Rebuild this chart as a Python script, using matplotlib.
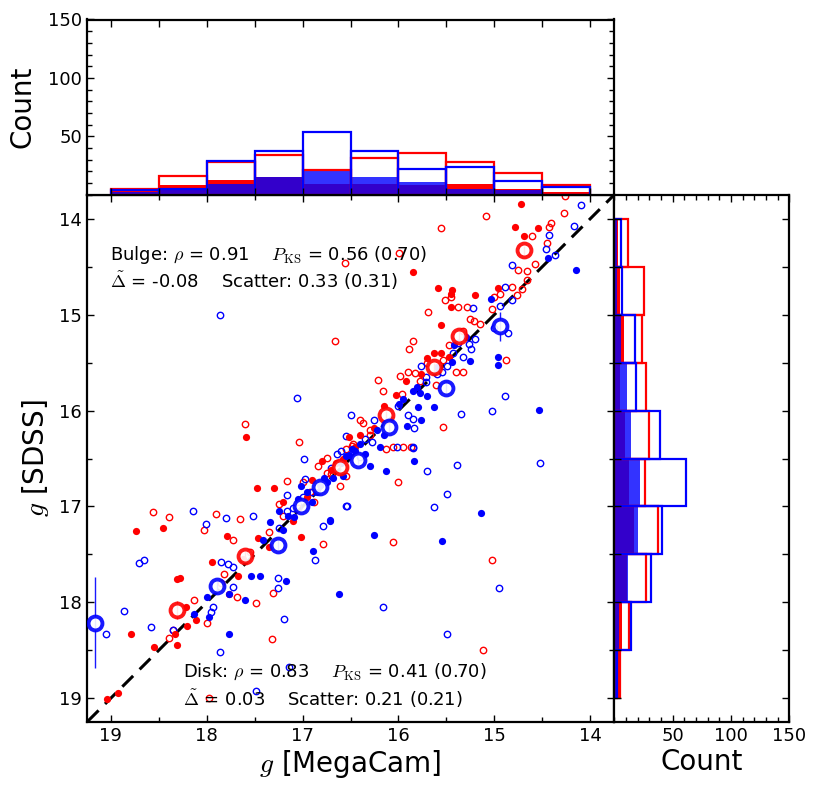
import matplotlib
matplotlib.use("Agg")
import matplotlib.pyplot as plt
import numpy as np

plt.rcParams['mathtext.fontset'] = 'cm'
plt.rcParams['font.family'] = 'DejaVu Sans'

# histogram bins (0.5 mag wide, from 14 to 19)
bin_left = [14.0, 14.5, 15.0, 15.5, 16.0, 16.5, 17.0, 17.5, 18.0, 18.5]

# top histogram: g MegaCam
mc_bulge_all = [8, 19, 28, 36, 31, 21, 34, 28, 16, 5]
mc_disk_all = [7, 12, 24, 22, 37, 54, 37, 29, 5, 4]
mc_bulge_sub = [2, 5, 9, 8, 9, 9, 15, 13, 8, 3]
mc_disk_sub = [1, 4, 5, 11, 15, 21, 15, 9, 4, 2]

# right histogram: g SDSS
sd_bulge_all = [12, 25, 24, 27, 30, 26, 37, 27, 13, 5]
sd_disk_all = [6, 7, 18, 19, 39, 61, 41, 31, 14, 2]
sd_bulge_sub = [3, 5, 8, 5, 9, 13, 17, 11, 7, 4]
sd_disk_sub = [2, 2, 6, 11, 14, 22, 20, 12, 4, 2]

# scatter points (g MegaCam, g SDSS)
bulge_open_x = [15.09, 15.56, 14.26, 14.27, 14.61, 14.41, 14.43, 14.45, 16.56, 15.99, 14.75, 14.66, 14.66,
                15.51, 15.45, 15.38, 15.29, 15.69, 15.21, 15.03, 15.00, 14.82, 14.94, 14.76, 14.71, 15.33,
                14.88, 15.85, 15.89, 15.47, 15.54, 15.40, 15.33, 15.83, 15.98, 16.21, 15.78, 15.61, 16.16,
                15.96, 15.54, 16.37, 16.48, 16.06, 15.95, 15.87, 16.66, 17.60, 17.04, 16.75, 16.84, 17.16,
                17.25, 18.56, 18.39, 17.90, 17.65, 18.03, 17.73, 17.35, 16.79, 17.82, 17.68, 17.49, 17.31,
                18.13, 18.00, 18.35, 18.39, 17.32, 17.98, 16.01, 16.06, 15.03, 15.12, 16.61, 16.13, 16.47,
                16.92, 16.70, 17.05, 16.30, 17.55, 17.85, 16.88, 16.55, 15.15, 14.58,
                16.30, 16.40, 16.75, 17.00, 17.20, 15.70, 15.90, 16.55, 15.25]
bulge_open_y = [13.97, 14.10, 13.76, 13.94, 14.18, 14.05, 14.09, 14.25, 14.46, 14.36, 14.53, 14.55, 14.64,
                14.85, 14.82, 14.92, 14.92, 14.97, 15.07, 14.94, 14.82, 14.71, 14.79, 14.80, 14.73, 15.17,
                15.47, 15.27, 15.36, 15.32, 15.47, 15.60, 15.60, 15.61, 15.64, 15.68, 15.69, 15.73, 15.80,
                15.83, 16.17, 16.13, 16.37, 16.38, 16.38, 16.38, 15.28, 16.14, 16.33, 16.49, 16.58, 16.73,
                16.97, 17.06, 17.11, 17.08, 17.13, 17.25, 17.35, 17.27, 17.39, 17.70, 17.94, 18.01, 17.90,
                17.97, 18.21, 18.29, 18.37, 18.38, 19.00, 16.75, 17.37, 17.56, 18.50, 16.79, 16.40, 16.35,
                16.85, 16.66, 17.02, 16.25, 17.47, 17.80, 16.95, 16.68, 15.10, 14.47,
                16.20, 16.10, 16.65, 16.75, 17.10, 15.50, 15.60, 16.40, 15.05]
bulge_fill_x = [14.72, 14.78, 14.55, 14.69, 15.85, 15.59, 15.44, 15.45, 15.20, 15.45, 15.56, 14.96, 15.63,
                15.56, 15.47, 15.77, 15.92, 16.03, 17.59, 16.52, 16.80, 17.47, 17.30, 17.10, 18.74, 18.45,
                17.79, 17.46, 17.02, 17.94, 18.31, 18.28, 17.67, 17.77, 18.22, 18.11, 18.79, 18.33, 18.31,
                18.55, 18.20, 19.04, 18.92, 17.35, 16.45, 16.25, 16.70, 17.62, 16.95, 16.58,
                16.40, 16.65, 16.90, 15.70, 17.20, 16.15]
bulge_fill_y = [13.85, 14.09, 14.10, 14.18, 14.56, 14.72, 14.74, 14.78, 14.80, 14.92, 15.11, 14.72, 15.40,
                15.40, 15.44, 15.62, 15.69, 15.84, 16.28, 16.28, 16.53, 16.81, 16.81, 17.15, 17.26, 17.22,
                17.31, 17.33, 17.32, 17.58, 17.76, 17.75, 17.73, 17.91, 18.05, 18.18, 18.33, 18.33, 18.44,
                18.46, 18.25, 19.01, 18.94, 17.42, 16.38, 16.18, 16.62, 17.55, 16.90, 16.50,
                16.25, 16.55, 16.72, 15.45, 16.95, 15.95]
disk_open_x = [14.10, 14.43, 14.17, 14.46, 14.37, 14.82, 14.89, 14.94, 14.82, 15.22, 15.00, 14.86, 15.38,
               15.26, 15.20, 15.24, 15.43, 15.33, 15.49, 15.76, 15.71, 15.71, 14.89, 15.02, 15.35, 15.85,
               15.84, 16.49, 16.55, 16.02, 15.85, 16.64, 17.86, 17.06, 16.98, 16.97, 17.16, 16.54, 17.16,
               16.79, 18.14, 17.80, 17.52, 18.01, 17.25, 16.87, 18.71, 18.65, 17.26, 17.26, 17.72, 17.95,
               17.93, 18.86, 19.05, 18.58, 18.35, 17.19, 17.86, 17.14, 17.48, 14.52, 15.39, 15.70, 15.49,
               15.63, 14.95, 16.16, 15.49, 15.85, 16.55, 17.85, 17.78, 17.72, 16.40, 16.90, 16.28, 15.60,
               16.60, 16.70, 16.35, 16.00, 15.90, 15.55, 17.00, 17.10, 16.25]
disk_open_y = [13.86, 14.17, 14.08, 14.32, 14.38, 14.48, 14.71, 14.91, 14.85, 14.93, 15.14, 15.19, 15.30,
               15.31, 15.25, 15.36, 15.40, 15.44, 15.54, 15.54, 15.65, 15.70, 15.85, 16.00, 16.04, 16.09,
               16.18, 16.05, 16.27, 16.38, 16.38, 16.45, 15.00, 15.87, 16.50, 16.71, 16.88, 16.99, 17.05,
               17.20, 17.05, 17.12, 17.10, 17.18, 17.22, 17.56, 17.59, 17.56, 17.75, 17.85, 17.84, 18.10,
               18.05, 18.09, 18.33, 18.26, 18.29, 18.17, 18.52, 18.67, 18.92, 16.55, 16.57, 16.63, 16.87,
               17.01, 17.85, 18.05, 18.33, 16.39, 16.99, 17.58, 17.60, 17.63, 16.48, 16.85, 16.33, 15.62,
               16.42, 16.60, 16.30, 15.95, 16.05, 15.60, 16.90, 17.02, 16.10]
disk_fill_x = [14.44, 14.15, 15.04, 15.30, 14.96, 14.96, 15.25, 15.44, 15.81, 15.78, 15.99, 15.70, 14.53,
               15.80, 15.63, 15.76, 15.91, 16.19, 16.52, 16.45, 17.02, 17.09, 16.71, 17.34, 17.41, 16.89,
               17.54, 17.44, 17.17, 17.77, 18.00, 17.60, 16.62, 18.13, 17.98, 17.77, 15.14, 15.84, 16.13,
               16.26, 15.55, 16.30, 16.71, 16.85, 16.75, 16.68, 16.90, 16.35, 16.60, 17.20,
               16.40, 16.48, 16.55, 16.78, 16.82, 16.95, 17.05, 16.15, 16.22, 15.95, 15.85, 15.60, 15.42,
               17.15, 17.25, 16.58]
disk_fill_y = [14.41, 14.54, 14.84, 15.23, 15.44, 15.53, 15.48, 15.49, 15.75, 15.82, 15.93, 15.85, 15.99,
               15.96, 15.96, 16.10, 16.16, 16.38, 16.46, 16.42, 16.79, 17.11, 17.15, 17.16, 17.35, 17.46,
               17.73, 17.73, 17.78, 17.91, 17.94, 17.98, 17.91, 18.12, 18.15, 18.33, 17.07, 16.53, 16.63,
               17.30, 17.36, 16.58, 17.14, 16.85, 16.75, 16.70, 16.95, 16.45, 16.55, 17.25,
               16.35, 16.40, 16.47, 16.70, 16.78, 16.85, 16.92, 16.25, 16.20, 15.88, 15.80, 15.55, 15.32,
               17.10, 17.05, 16.68]

# binned medians
bulge_med_x = [14.69, 15.37, 15.63, 16.13, 16.61, 17.60, 18.31]
bulge_med_y = [14.33, 15.22, 15.55, 16.05, 16.59, 17.52, 18.08]
bulge_med_err = [0.05, 0.05, 0.05, 0.05, 0.04, 0.06, 0.09]
disk_med_x = [14.94, 15.50, 16.10, 16.42, 16.82, 17.02, 17.26, 17.89, 19.16]
disk_med_y = [15.12, 15.76, 16.17, 16.52, 16.80, 17.00, 17.40, 17.83, 18.21]
disk_med_err = [0.15, 0.07, 0.05, 0.04, 0.04, 0.04, 0.06, 0.06, 0.47]

W, H = 815, 785
fig = plt.figure(figsize=(W / 100, H / 100), dpi=100)
ax = fig.add_axes([86.7 / W, 1 - 722.3 / H, 527.6 / W, 527.6 / H])
axt = fig.add_axes([86.7 / W, 1 - 194.7 / H, 527.6 / W, 175.2 / H])
axr = fig.add_axes([614.3 / W, 1 - 722.3 / H, 175.2 / W, 527.6 / H])

lim = (19.25, 13.75)

# main scatter
ax.plot([13, 20], [13, 20], color='k', ls='--', lw=2.2, dashes=(5, 3), zorder=1)
ax.plot(bulge_open_x, bulge_open_y, 'o', mfc='none', mec='red', ms=4.6, mew=1)
ax.plot(disk_open_x, disk_open_y, 'o', mfc='none', mec='blue', ms=4.6, mew=1)
ax.plot(bulge_fill_x, bulge_fill_y, 'o', color='red', ms=5.2, mew=0)
ax.plot(disk_fill_x, disk_fill_y, 'o', color='blue', ms=5.2, mew=0)
ax.errorbar(bulge_med_x, bulge_med_y, yerr=bulge_med_err, fmt='o', mfc='white', mec='red', ecolor='red',
            ms=10, mew=2.8, elinewidth=1, alpha=0.9, zorder=5)
ax.errorbar(disk_med_x, disk_med_y, yerr=disk_med_err, fmt='o', mfc='white', mec='blue', ecolor='blue',
            ms=10, mew=2.8, elinewidth=1, alpha=0.9, zorder=5)

ax.set_xlim(lim)
ax.set_ylim(lim)
ax.set_xticks([19, 18, 17, 16, 15, 14])
ax.set_yticks([14, 15, 16, 17, 18, 19])
ax.set_xticks(np.arange(14, 19.5, 0.5), minor=True)
ax.set_yticks(np.arange(14, 19.5, 0.5), minor=True)
ax.set_xlabel('$g$ [MegaCam]', fontsize=20, labelpad=2)
ax.set_ylabel('$g$ [SDSS]', fontsize=20, labelpad=6)

ax.text(0.045, 0.885, r'Bulge: $\rho$ = 0.91    $P_{\rm KS}$ = 0.56 (0.70)', transform=ax.transAxes,
        fontsize=13, va='center')
ax.text(0.045, 0.836, r'$\tilde{\Delta}$ = -0.08    Scatter: 0.33 (0.31)', transform=ax.transAxes,
        fontsize=13, va='center')
ax.text(0.182, 0.095, r'Disk: $\rho$ = 0.83    $P_{\rm KS}$ = 0.41 (0.70)', transform=ax.transAxes,
        fontsize=13, va='center')
ax.text(0.182, 0.045, r'$\tilde{\Delta}$ = 0.03    Scatter: 0.21 (0.21)', transform=ax.transAxes,
        fontsize=13, va='center')

# top histogram
centers = np.array(bin_left) + 0.25
axt.bar(centers, mc_bulge_sub, width=0.5, color='red', lw=0)
axt.bar(centers, mc_disk_sub, width=0.5, color='blue', alpha=0.8, lw=0)
axt.bar(centers, mc_bulge_all, width=0.5, fill=False, edgecolor='red', lw=1.6)
axt.bar(centers, mc_disk_all, width=0.5, fill=False, edgecolor='blue', lw=1.6)
axt.set_xlim(lim)
axt.set_ylim(0, 150)
axt.set_xticks(np.arange(14, 19.5, 0.5))
axt.set_xticklabels([])
axt.set_yticks([50, 100, 150])
axt.set_yticks(np.arange(0, 151, 10), minor=True)
axt.set_ylabel('Count', fontsize=20, labelpad=8)

# right histogram
axr.barh(centers, sd_bulge_sub, height=0.5, color='red', lw=0)
axr.barh(centers, sd_disk_sub, height=0.5, color='blue', alpha=0.8, lw=0)
axr.barh(centers, sd_bulge_all, height=0.5, fill=False, edgecolor='red', lw=1.6)
axr.barh(centers, sd_disk_all, height=0.5, fill=False, edgecolor='blue', lw=1.6)
axr.set_ylim(lim)
axr.set_xlim(0, 150)
axr.set_yticks(np.arange(14, 19.5, 0.5))
axr.set_yticklabels([])
axr.set_xticks([50, 100, 150])
axr.set_xticks(np.arange(0, 151, 10), minor=True)
axr.set_xlabel('Count', fontsize=20, labelpad=2)

for a in (ax, axt, axr):
    for s in a.spines.values():
        s.set_linewidth(1.6)
    a.tick_params(which='both', direction='in', top=True, right=True, labelsize=13, width=1)
    a.tick_params(which='major', length=5)
    a.tick_params(which='minor', length=3.5)

fig.savefig('out.png', dpi=100)
